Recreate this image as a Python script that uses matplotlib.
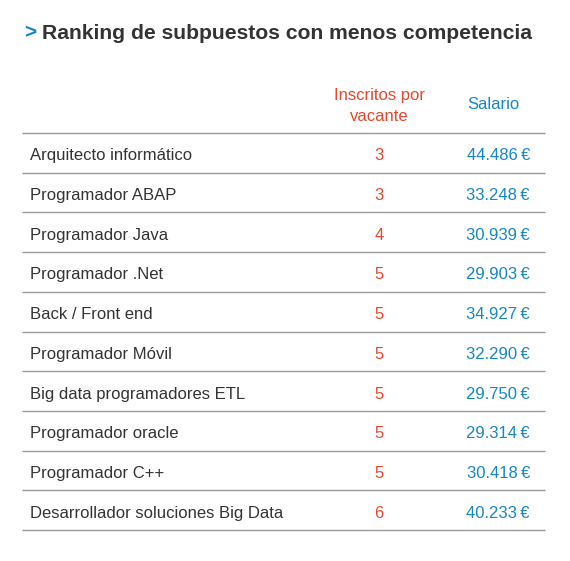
import matplotlib
matplotlib.use('Agg')
import matplotlib.pyplot as plt

# Table data
puestos = ['Arquitecto informático', 'Programador ABAP', 'Programador Java',
           'Programador .Net', 'Back / Front end', 'Programador Móvil',
           'Big data programadores ETL', 'Programador oracle', 'Programador C++',
           'Desarrollador soluciones Big Data']
inscritos = [3, 3, 4, 5, 5, 5, 5, 5, 5, 6]
salarios = ['44.486', '33.248', '30.939', '29.903', '34.927', '32.290',
            '29.750', '29.314', '30.418', '40.233']

RED = '#e8452c'
BLUE = '#1687c6'
DARK = '#333333'
GRID = '#9a9a9a'

plt.rcParams['font.family'] = ['Liberation Sans', 'DejaVu Sans']

fig = plt.figure(figsize=(5.7, 5.61), dpi=100)
ax = fig.add_axes([0, 0, 1, 1])
ax.set_xlim(0, 570)
ax.set_ylim(561, 0)
ax.axis('off')

# title
ax.text(24, 33, '>', color=BLUE, fontsize=15, fontweight='bold', va='center')
ax.text(42, 33, 'Ranking de subpuestos con menos competencia', color=DARK,
        fontsize=15.2, fontweight='bold', va='center')

# header
ax.text(379, 106, 'Inscritos por\nvacante', color=RED, fontsize=12,
        ha='center', va='center', linespacing=1.5)
ax.text(493, 104, 'Salario', color=BLUE, fontsize=12, ha='center', va='center')

top = 133
step = 39.7
ax.hlines(top, 22, 545, color=GRID, lw=1)
for i, (p, n, s) in enumerate(zip(puestos, inscritos, salarios)):
    yc = top + step * (i + 0.5) + 3
    ax.text(30, yc, p, color=DARK, fontsize=12, va='center')
    ax.text(379, yc, str(n), color=RED, fontsize=12, ha='center', va='center')
    ax.text(530, yc, s + '\u2009€', color=BLUE, fontsize=12, ha='right', va='center')
    ax.hlines(top + step * (i + 1), 22, 545, color=GRID, lw=1)

fig.savefig('out.png', dpi=100, facecolor='white')
